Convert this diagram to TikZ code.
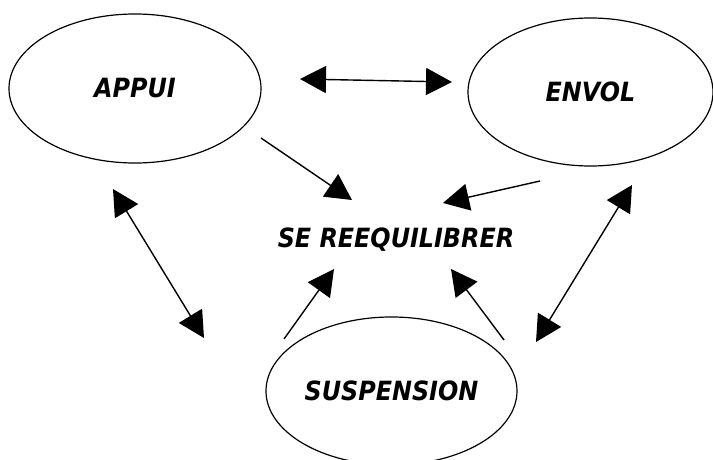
\documentclass[tikz,border=0pt]{standalone}
\usepackage{fontspec}
\setmainfont{DejaVu Sans Condensed}
\usetikzlibrary{shapes.geometric,arrows.meta}
\begin{document}
\begin{tikzpicture}[x=1pt,y=-1pt,
  oval/.style={draw, line width=1.2pt, ellipse, inner sep=0pt},
  lbl/.style={font=\fontsize{26.5}{30}\selectfont\bfseries\itshape},
  tip/.style={line width=1.4pt, -{Triangle[length=26pt,width=27pt]}},
  dtip/.style={line width=1.4pt, {Triangle[length=26pt,width=27pt]}-{Triangle[length=26pt,width=27pt]}}]
\useasboundingbox (0,0) rectangle (713,460);
\node[oval, lbl, minimum width=252pt, minimum height=149pt] (appui) at (135,88.5) {APPUI};
\node[oval, lbl, minimum width=245pt, minimum height=148pt] (envol) at (590.5,92) {ENVOL};
\node[oval, lbl, minimum width=251pt, minimum height=148pt] (susp) at (391.5,391) {SUSPENSION};
\node[lbl, inner sep=0pt] (se) at (396,240) {SE REEQUILIBRER};
\coordinate (h1) at (300,79);
\coordinate (h2) at (452,82);
\coordinate (a1) at (261,138);
\coordinate (a2) at (352,200);
\coordinate (e1) at (540,181);
\coordinate (e2) at (443,203);
\coordinate (l1) at (113,189);
\coordinate (l2) at (204,338);
\coordinate (r1) at (632,185);
\coordinate (r2) at (536,342);
\coordinate (s1) at (284,339);
\coordinate (s2) at (334,269);
\coordinate (s3) at (504,340);
\coordinate (s4) at (451,269);
\draw[dtip] (h1) -- (h2);
\draw[tip] (a1) -- (a2);
\draw[tip] (e1) -- (e2);
\draw[dtip] (l1) -- (l2);
\draw[dtip] (r1) -- (r2);
\draw[tip] (s1) -- (s2);
\draw[tip] (s3) -- (s4);
\end{tikzpicture}
\end{document}
